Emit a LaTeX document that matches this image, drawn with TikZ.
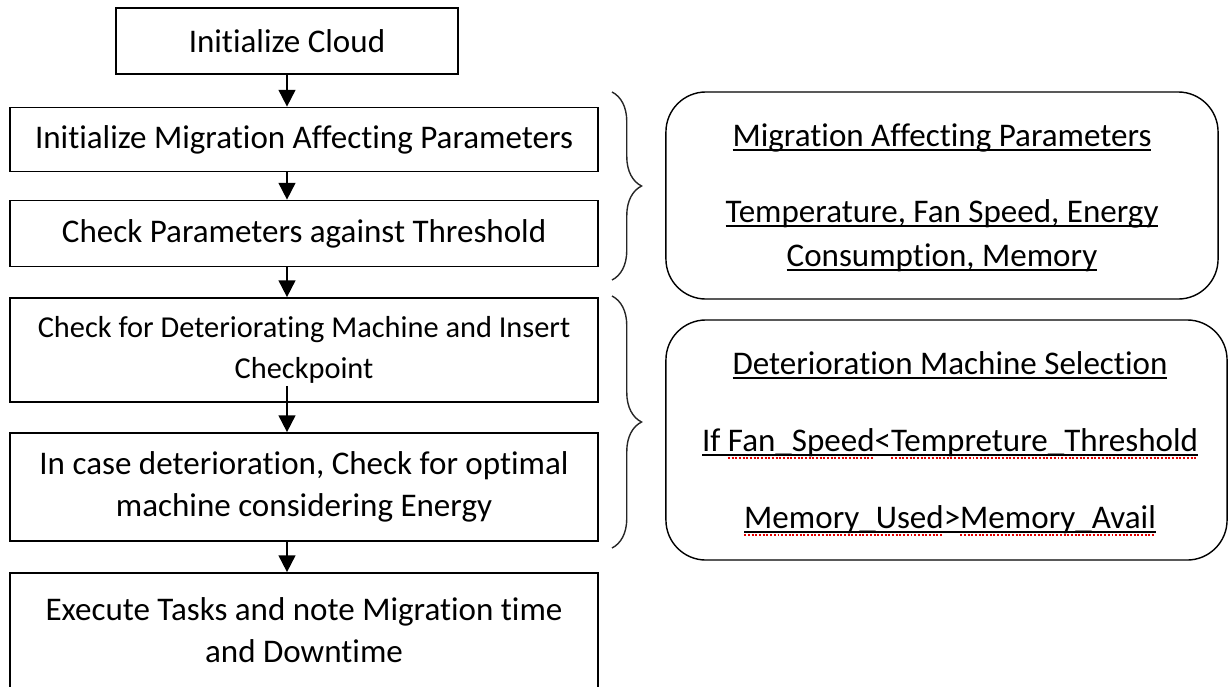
\documentclass[tikz,border=0pt]{standalone}
\usepackage{fontspec}
\setmainfont[Ligatures={NoCommon}]{Carlito}
\usetikzlibrary{arrows.meta,decorations.pathreplacing}
\newcommand\myul[1]{\setbox0\hbox{#1}\rlap{\rule[-3.3pt]{\wd0}{1.3pt}}\box0}
\newcommand\myrw[1]{\setbox0\hbox{#1}\rlap{\rule[-3.3pt]{\wd0}{1.3pt}}\rlap{\color{red!90!black}\hbox to\wd0{\xleaders\hbox to 2.6pt{\rule[-5.6pt]{1.4pt}{1.3pt}\hss}\hfill}}\box0}
\begin{document}
\begin{tikzpicture}[x=0.025cm,y=-0.025cm,
  every node/.style={font=\fontsize{23.5}{30}\selectfont, text=black},
  box/.style={draw, line width=1.2pt, minimum width=14.7cm, inner sep=0pt, align=center},
  rbox/.style={draw, line width=1pt, rounded corners=1cm, inner sep=0pt},
  arr/.style={line width=1.3pt, -{Triangle[width=12pt,length=12pt]}},
  brc/.style={decorate, decoration={brace, amplitude=21pt}, line width=1pt, draw=black!85},
  lab/.style={inner sep=0pt, anchor=base}
]
\useasboundingbox (0,0) rectangle (1229,686);
\node[box, minimum width=8.55cm, minimum height=1.65cm] (b1) at (287,41) {Initialize Cloud};
\node[box, minimum height=1.6cm] (b2) at (304,139.5) {Initialize Migration Affecting Parameters};
\node[box, minimum height=1.65cm] (b3) at (304,233.5) {Check Parameters against Threshold};
\node[box, minimum height=2.6cm, font=\fontsize{21.6}{29.5}\selectfont] (b4) at (304,350) {Check for Deteriorating Machine and Insert\\Checkpoint};
\node[box, minimum height=2.7cm] (b5) at (304,487) {In case deterioration, Check for optimal\\machine considering Energy};
\node[box, minimum height=2.875cm] (b6) at (304,630.5) {Execute Tasks and note Migration time\\and Downtime};

\draw[arr] (b1.south) -- (b1.south |- b2.north);
\draw[arr] (b1.south |- b2.south) -- (b1.south |- b3.north);
\draw[arr] (b1.south |- b3.south) -- (b1.south |- b4.north);
\draw[arr] ([yshift=0.425cm]b1.south |- b4.south) -- (b1.south |- b5.north);
\draw[arr] (b1.south |- b5.south) -- (b1.south |- b6.north);

\draw[brc] (612,92) -- (612,280);
\draw[brc] (612,296) -- (612,548);

\node[rbox, minimum width=13.8cm, minimum height=5.175cm] (ra) at (942,195.5) {};
\node[lab] (ra1) at (942,146) {\myul{Migration Affecting Parameters}};
\node[lab] (ra2) at (942,222) {\myul{Temperature, Fan Speed, Energy}};
\node[lab] (ra3) at (942,266) {\myul{Consumption, Memory}};

\node[rbox, minimum width=14.025cm, minimum height=6cm] (rb) at (946.5,440) {};
\node[lab] (rb1) at (950,374) {\myul{Deterioration Machine Selection}};
\node[lab] (rb2) at (950,451) {\myul{If }\myrw{Fan\_Speed}\myul{<}\myrw{Tempreture\_Threshold}};
\node[lab] (rb3) at (950,528) {\myrw{Memory\_Used}\myul{>}\myrw{Memory\_Avail}};
\end{tikzpicture}
\end{document}
